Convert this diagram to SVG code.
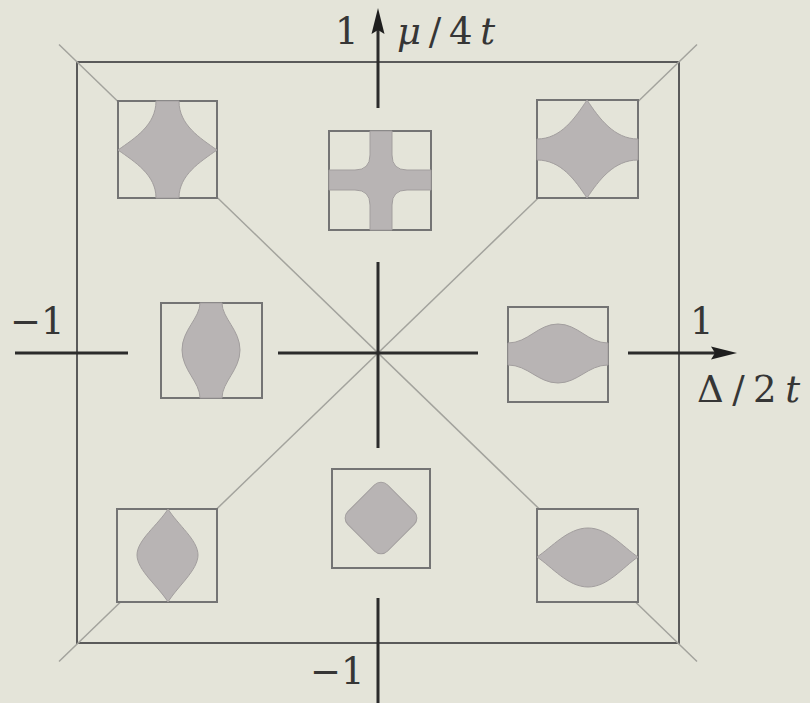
<svg xmlns="http://www.w3.org/2000/svg" width="810" height="703" viewBox="0 0 810 703">
<style>
.bg{fill:#e4e4d9}
.frame{fill:none;stroke:#5a5a5a;stroke-width:2}
.diag{fill:none;stroke:#a3a39d;stroke-width:1.5}
.box{fill:#e4e4d9;stroke:#747474;stroke-width:2}
.shape{fill:#b8b4b4;stroke:#a29e9e;stroke-width:1}
.axis{fill:none;stroke:#2b2b2b;stroke-width:3}
.lbl{font-family:"DejaVu Serif","Liberation Serif",serif;font-size:37px;fill:#363636}
.it{font-style:italic}
</style>
<defs>
<marker id="ah" viewBox="-16 -8 32 16" markerWidth="32" markerHeight="16" refX="0" refY="0" orient="auto" markerUnits="userSpaceOnUse" overflow="visible">
<path d="M12,0 L-14,-6.5 L-10,0 L-14,6.5 Z" fill="#1e1e1e"/>
</marker>
</defs>
<rect class="bg" x="0" y="0" width="810" height="703"/>
<g id="frame">
<rect class="frame" x="77" y="62" width="602" height="581"/>
</g>
<g id="connectors">
<line class="diag" x1="59" y1="44.5" x2="697" y2="661.5"/>
<line class="diag" x1="697" y1="44.5" x2="59" y2="661.5"/>
</g>
<g id="node-tl">
<rect class="box" x="118" y="101" width="99" height="97"/>
<path class="shape" d="M156,101 C156,125 135,138 118,150 C135,162 156,175 156,198 L179,198 C179,175 200,162 217,150 C200,138 179,125 179,101 Z"/>
</g>
<g id="node-tc">
<rect class="box" x="329" y="131" width="102" height="99"/>
<path class="shape" d="M370,131 L370,155 Q370,170 355,170 L329,170 L329,190 L355,190 Q370,190 370,205 L370,230 L392,230 L392,205 Q392,190 407,190 L431,190 L431,170 L407,170 Q392,170 392,155 L392,131 Z"/>
</g>
<g id="node-tr">
<rect class="box" x="537" y="100" width="101" height="98"/>
<path class="shape" d="M537,139 C561,139 575,118 587,100 C599,118 614,139 638,139 L638,160 C614,160 599,180 587,198 C575,180 561,160 537,160 Z"/>
</g>
<g id="node-ml">
<rect class="box" x="161" y="303" width="101" height="95"/>
<path class="shape" d="M200,303 C200,318 182,330 182,350 C182,370 200,382 200,398 L222,398 C222,382 240,370 240,350 C240,330 222,318 222,303 Z"/>
</g>
<g id="node-mr">
<rect class="box" x="508" y="307" width="100" height="95"/>
<path class="shape" d="M508,343 C528,343 538,324 558,324 C578,324 588,343 608,343 L608,365 C588,365 578,383 558,383 C538,383 528,365 508,365 Z"/>
</g>
<g id="node-bl">
<rect class="box" x="117" y="509" width="100" height="93"/>
<path class="shape" d="M168,509 C158,525 137,540 137,555 C137,570 158,586 168,602 C178,586 198,570 198,555 C198,540 178,525 168,509 Z"/>
</g>
<g id="node-bc">
<rect class="box" x="332" y="469" width="98" height="99"/>
<rect class="shape" x="-28" y="-28" width="56" height="56" rx="9" transform="translate(381,518) rotate(45)"/>
</g>
<g id="node-br">
<rect class="box" x="537" y="509" width="101" height="93"/>
<path class="shape" d="M537,557 C552,547 568,528 588,528 C608,528 623,547 638,557 C623,567 608,587 588,587 C568,587 552,567 537,557 Z"/>
</g>
<g id="axes">
<line class="axis" x1="378" y1="108" x2="378" y2="20" marker-end="url(#ah)"/>
<line class="axis" x1="378" y1="262" x2="378" y2="448"/>
<line class="axis" x1="378" y1="598" x2="378" y2="703"/>
<line class="axis" x1="15" y1="353" x2="128" y2="353"/>
<line class="axis" x1="278" y1="353" x2="478" y2="353"/>
<line class="axis" x1="628" y1="353" x2="725" y2="353" marker-end="url(#ah)"/>
</g>
<g id="labels">
<text class="lbl" x="335" y="44">1</text>
<text class="lbl" x="397" y="44" textLength="98" lengthAdjust="spacing"><tspan class="it">μ</tspan>/4<tspan class="it">t</tspan></text>
<text class="lbl" x="10" y="334">−1</text>
<text class="lbl" x="690" y="334">1</text>
<text class="lbl" x="697" y="402" textLength="103" lengthAdjust="spacing">Δ/2<tspan class="it">t</tspan></text>
<text class="lbl" x="310" y="684">−1</text>
</g>
</svg>
